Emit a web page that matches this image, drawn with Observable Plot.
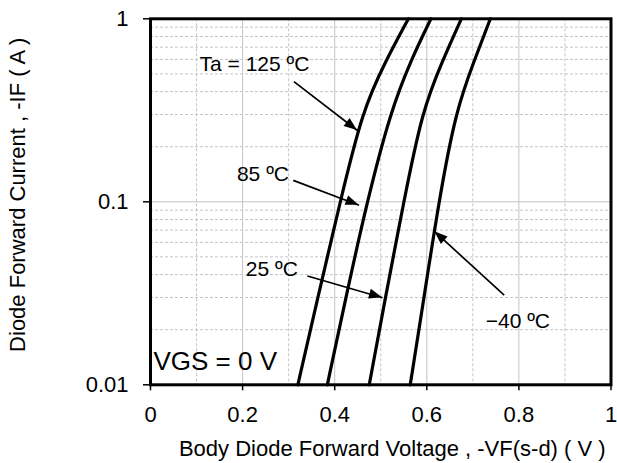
<!DOCTYPE html>
<html><head><meta charset="utf-8">
<script src="https://cdn.jsdelivr.net/npm/d3@7"></script>
<script src="https://cdn.jsdelivr.net/npm/@observablehq/plot@0.6"></script>
<style>body{margin:0;background:#fff;} svg{display:block}</style>
</head><body><div id="chart"></div>
<script>
// Data
const currents = [0.01, 0.029, 0.1, 0.315, 0.59, 1];
const v125 = [0.320, 0.362, 0.412, 0.460, 0.511, 0.560];
const v85  = [0.384, 0.423, 0.470, 0.522, 0.565, 0.609];
const v25  = [0.475, 0.509, 0.550, 0.590, 0.634, 0.675];
const vm40 = [0.564, 0.593, 0.626, 0.663, 0.703, 0.738];
const seriesNames = ["125", "85", "25", "-40"];
const seriesValues = [v125, v85, v25, vm40];

const xTicks = [0, 0.2, 0.4, 0.6, 0.8, 1];
const xTickLabels = ["0", "0.2", "0.4", "0.6", "0.8", "1"];
const xMajorGrid = [0.2, 0.4, 0.6, 0.8];
const xMinorGrid = [0.1, 0.3, 0.5, 0.7, 0.9];
const yTicks = [0.01, 0.1, 1];
const yTickLabels = ["0.01", "0.1", "1"];
const yMajorGrid = [0.1];
const yMinorGrid = [0.02, 0.03, 0.04, 0.05, 0.06, 0.07, 0.08, 0.09, 0.2, 0.3, 0.4, 0.5, 0.6, 0.7, 0.8, 0.9];

const xTitle = "Body Diode Forward Voltage , -VF(s-d) ( V )";
const yTitle = "Diode Forward Current , -IF ( A )";

const noteTexts = ["Ta = 125 ºC", "85 ºC", "25 ºC", "−40 ºC"];
const noteX = [0.1065, 0.3007, 0.320, 0.728];
const noteY = [0.5615, 0.142, 0.0429, 0.0223];
const noteAnchor = ["start", "end", "end", "start"];

const arrowX1 = [0.3115, 0.310, 0.3407, 0.768];
const arrowY1 = [0.4535, 0.131, 0.0393, 0.0309];
const arrowX2 = [0.4493, 0.4528, 0.5037, 0.618];
const arrowY2 = [0.2453, 0.0957, 0.0299, 0.0684];

const condText = ["VGS = 0 V"];
const condX = [0.0065];
const condY = [0.01334];

// Build tables
const rows = [];
seriesNames.forEach((s, k) => currents.forEach((c, i) => rows.push({series: s, I: c, V: seriesValues[k][i]})));
const notes = noteTexts.map((t, i) => ({t, x: noteX[i], y: noteY[i], a: noteAnchor[i]}));
const arrows = arrowX1.map((x1, i) => ({x1, y1: arrowY1[i], x2: arrowX2[i], y2: arrowY2[i]}));
const conds = condText.map((t, i) => ({t, x: condX[i], y: condY[i]}));

const gridColor = "#c4c4c4";
const plot = Plot.plot({
  width: 617,
  height: 463,
  marginLeft: 150,
  marginRight: 6.5,
  marginTop: 18.3,
  marginBottom: 78.7,
  style: {fontFamily: "'Liberation Sans', Arial, sans-serif", fontSize: "22px", color: "#000", background: "#fff"},
  x: {domain: [0, 1]},
  y: {type: "log", domain: [0.01, 1]},
  marks: [
    Plot.ruleX(xMinorGrid, {stroke: gridColor, strokeDasharray: "3,2", strokeWidth: 1}),
    Plot.ruleY(yMinorGrid, {stroke: gridColor, strokeDasharray: "3,2", strokeWidth: 1}),
    Plot.ruleX(xMajorGrid, {stroke: gridColor, strokeWidth: 1}),
    Plot.ruleY(yMajorGrid, {stroke: gridColor, strokeWidth: 1}),
    Plot.axisX(xTicks, {tickFormat: d => xTickLabels[xTicks.indexOf(d)], tickSize: 6, tickPadding: 16, strokeWidth: 1.5, fontSize: 22, label: null}),
    Plot.axisY(yTicks, {tickFormat: d => yTickLabels[yTicks.indexOf(d)], tickSize: 7, tickPadding: 15, strokeWidth: 1.5, fontSize: 22, label: null}),
    Plot.line(rows, {x: "V", y: "I", z: "series", stroke: "black", strokeWidth: 3.2, curve: "basis"}),
    Plot.link(arrows, {x1: "x1", y1: "y1", x2: "x2", y2: "y2", stroke: "black", strokeWidth: 1.7}),
    Plot.text(notes, {filter: d => d.a === "start", x: "x", y: "y", text: "t", textAnchor: "start", fontSize: 21, fill: "black"}),
    Plot.text(notes, {filter: d => d.a === "end", x: "x", y: "y", text: "t", textAnchor: "end", fontSize: 21, fill: "black"}),
    Plot.text(conds, {x: "x", y: "y", text: "t", textAnchor: "start", fontSize: 26, fill: "black"}),
    Plot.text([xTitle], {frameAnchor: "bottom", textAnchor: "middle", lineAnchor: "middle", dx: 11.5, dy: 64, fontSize: 22, fill: "black"}),
    Plot.text([yTitle], {frameAnchor: "left", textAnchor: "middle", lineAnchor: "middle", rotate: -90, dx: -133, dy: -7, fontSize: 22, fill: "black"}),
    Plot.frame({stroke: "black", strokeWidth: 3})
  ]
});

// Filled arrowheads positioned through the plot's own scales
const sx = plot.scale("x"), sy = plot.scale("y");
const g = d3.select(plot).append("g").attr("fill", "black");
arrows.forEach(a => {
  const x1 = sx.apply(a.x1), y1 = sy.apply(a.y1), x2 = sx.apply(a.x2), y2 = sy.apply(a.y2);
  const ang = Math.atan2(y2 - y1, x2 - x1);
  const L = 13, W = 5;
  const bx = x2 - L * Math.cos(ang), by = y2 - L * Math.sin(ang);
  const px = -Math.sin(ang) * W, py = Math.cos(ang) * W;
  g.append("path").attr("d", `M${x2},${y2}L${bx + px},${by + py}L${bx - px},${by - py}Z`);
});

document.getElementById("chart").append(plot);
</script>
</body></html>
